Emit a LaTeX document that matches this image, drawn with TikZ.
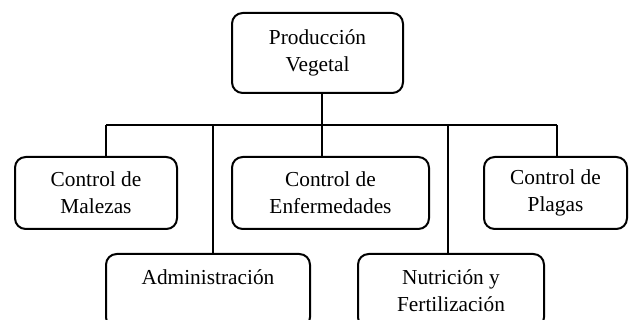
\documentclass[tikz,border=0pt]{standalone}
\usepackage{fontspec}
\setmainfont{Liberation Serif}
\usetikzlibrary{%
	positioning,
	calc
}

\begin{document}
\begin{tikzpicture}[
		x=0.75pt,y=-0.75pt,
		SBox/.style={draw,line width=1.5pt,rounded corners=8pt,align=center,inner sep=0pt,font=\fontsize{16}{20.25}\selectfont},
		link/.style={line width=1.5pt}
	]
	
	\useasboundingbox (0,0) rectangle (629,320);
	
	%root
	\node(prod) [SBox, minimum width=128.25pt, minimum height=60pt] at (317.5,53) {Producción\\Vegetal};
	
	%first row
	\node(malezas) [SBox, minimum width=121.5pt, minimum height=54pt] at (96,193) {Control de\\Malezas};
	\node(enfer) [SBox, minimum width=147.75pt, minimum height=54pt] at (330.5,193) {Control de\\Enfermedades};
	\node(plagas) [SBox, minimum width=107.25pt, minimum height=54pt] at (555.5,193) {Control de\\Plagas};
	
	%second row
	\node(admin) [SBox, minimum width=153pt, minimum height=55.5pt] at (208,291) {Administración\\\mbox{}};
	\node(nutri) [SBox, minimum width=139.5pt, minimum height=55.5pt] at (451,291) {Nutrición y\\Fertilización};
	
	%bus
	\coordinate(bus-m) at (106,125);
	\coordinate(bus-a) at (213,125);
	\coordinate(bus-e) at (322,125);
	\coordinate(bus-n) at (448,125);
	\coordinate(bus-p) at (557,125);
	
	\draw [link] (bus-m) -- (bus-p);
	\draw [link] (bus-e |- prod.south) -- (bus-e |- enfer.north);
	\draw [link] (bus-m) -- (bus-m |- malezas.north);
	\draw [link] (bus-a) -- (bus-a |- admin.north);
	\draw [link] (bus-n) -- (bus-n |- nutri.north);
	\draw [link] (bus-p) -- (bus-p |- plagas.north);
	
\end{tikzpicture}
\end{document}
